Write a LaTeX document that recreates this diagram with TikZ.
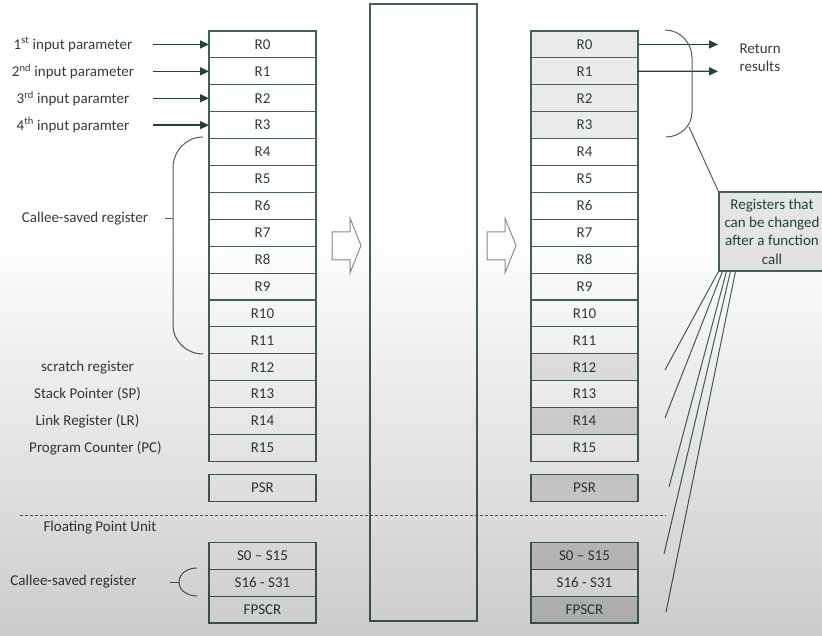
\documentclass[tikz,border=0pt]{standalone}
\usepackage{fontspec}
\setmainfont{Carlito}
\usepackage{tikz}
\usetikzlibrary{arrows.meta, positioning, fadings}
\definecolor{regline}{RGB}{70,98,86}
\definecolor{regtext}{RGB}{50,62,56}
\definecolor{tipgreen}{RGB}{28,70,50}
\newcommand{\lbl}{\fontsize{15}{18.3}\selectfont}

\begin{document}
\begin{tikzpicture}[x=1pt, y=-1pt,
    every node/.style={text=regtext, font=\lbl},
    reg/.style={rectangle, draw=regline, line width=1.1pt, fill=white,
                minimum width=107pt, minimum height=26.9pt, inner sep=0pt, outer sep=0pt},
    regA/.style={reg, fill=gray!16},
    regB/.style={reg, fill=gray!24},
    regC/.style={reg, fill=gray!32},
    arr/.style={-{Triangle[length=9pt, width=8pt]}, line width=1.3pt, draw=tipgreen},
    link/.style={draw=regline, line width=1pt},
    hollow/.style={draw=regline!70, line width=1pt, fill=white}
]
% canvas
\useasboundingbox (0,0) rectangle (822,636);
\fill[white] (0,0) rectangle (822,636);

% register file before the call
\node[reg] (L0) at (262.5,44.45) {R0};
\foreach \i [remember=\i as \j (initially 0)] in {1,...,15}
  \node[reg, below=0pt of L\j] (L\i) {R\i};
\node[reg, below=13pt of L15] (Lpsr) {PSR};
\node[reg, below=41pt of Lpsr] (Ls0) {S0 -- S15};
\node[reg, below=0pt of Ls0] (Ls16) {S16 - S31};
\node[reg, below=0pt of Ls16] (Lfp) {FPSCR};

% function body
\node[draw=regline, line width=1.3pt, minimum width=107pt, minimum height=617pt,
      inner sep=0pt] (func) at (423.5,312.5) {};

% register file after the call
\node[regA] (Q0) at (584.5,44.45) {R0};
\foreach \i/\s [remember=\i as \j (initially 0)] in
    {1/regA,2/regA,3/regA,4/reg,5/reg,6/reg,7/reg,8/reg,9/reg,10/reg,
     11/reg,12/regA,13/reg,14/regB,15/reg}
  \node[\s, below=0pt of Q\j] (Q\i) {R\i};
\node[regB, below=13pt of Q15] (Qpsr) {PSR};
\node[regC, below=41pt of Qpsr] (Qs0) {S0 -- S15};
\node[reg, below=0pt of Qs0] (Qs16) {S16 - S31};
\node[regC, below=0pt of Qs16] (Qfp) {FPSCR};

% hollow arrows
\draw[hollow] (332,232) -- (350,232) -- (350,218) -- (361,245.5) -- (350,273)
  -- (350,260) -- (332,260) -- cycle;
\draw[hollow] (487,232) -- (505,232) -- (505,218) -- (516,245.5) -- (505,273)
  -- (505,260) -- (487,260) -- cycle;

% input parameters
\node (p0) at (73,44.45) {1\textsuperscript{st} input parameter};
\node (p1) at (73,71.35) {2\textsuperscript{nd} input parameter};
\node (p2) at (73,98.25) {3\textsuperscript{rd} input paramter};
\node (p3) at (73,125.15) {4\textsuperscript{th} input paramter};
\foreach \i in {0,...,3} {
  \coordinate (pin\i) at (153,44.45+26.9*\i);
  \draw[arr] (pin\i) -- (L\i.west);
}

% callee-saved brace
\draw[link] (203,137) to[out=180,in=90] (173,168) -- (173,325)
  to[out=-90,in=180] (203,354);
\draw[link] (165,219) -- (173,219);
\node (callee) at (85,219) {Callee-saved register};

\node (scratch) at (87.5,367.3) {scratch register};
\node (sp) at (87.5,394.2) {Stack Pointer (SP)};
\node (lr) at (87.5,421.1) {Link Register (LR)};
\node (pc) at (95.5,448) {Program Counter (PC)};

% FPU
\draw[link, dash pattern=on 3pt off 2pt] (20,515) -- (666,515);
\node (fpu) at (100,528) {Floating Point Unit};
\draw[link] (197,568) to[out=180,in=90] (179,582) to[out=-90,in=180] (197,596);
\draw[link] (170,582) -- (179,582);
\node (calleefp) at (73.5,581.5) {Callee-saved register};

% return values
\coordinate (ret0) at (718,44.45);
\coordinate (ret1) at (718,71.35);
\draw[arr] (Q0.east) -- (ret0);
\draw[arr] (Q1.east) -- (ret1);
\node[anchor=west, align=left] (ret) at (736,57.5) {Return\\results};

% caller-saved callout
\node[draw=regline, line width=1.1pt, fill=gray!20, align=center, text=tipgreen,
      minimum width=106pt, minimum height=79pt, inner sep=1pt] (callout)
      at (772,231.5) {Registers that\\can be changed\\after a function\\call};
\draw[link] (665,30) to[out=0,in=90] (692,58) -- (692,112)
  to[out=-90,in=0] (666,137);
\coordinate (brtip) at (689,127);
\draw[link] (brtip) -- (callout.north west);
\coordinate (f12) at (665,370);
\coordinate (f14) at (665,418);
\coordinate (fpsr) at (669,487);
\coordinate (fs0) at (664,554);
\coordinate (ffp) at (666,612);
\draw[link] ([xshift=0pt]callout.south west) -- (f12);
\draw[link] ([xshift=4pt]callout.south west) -- (f14);
\draw[link] ([xshift=8pt]callout.south west) -- (fpsr);
\draw[link] ([xshift=12pt]callout.south west) -- (fs0);
\draw[link] ([xshift=17pt]callout.south west) -- (ffp);

% screen shading
\fill[black, opacity=0.2, path fading=north] (0,230) rectangle (822,636);
\end{tikzpicture}
\end{document}
